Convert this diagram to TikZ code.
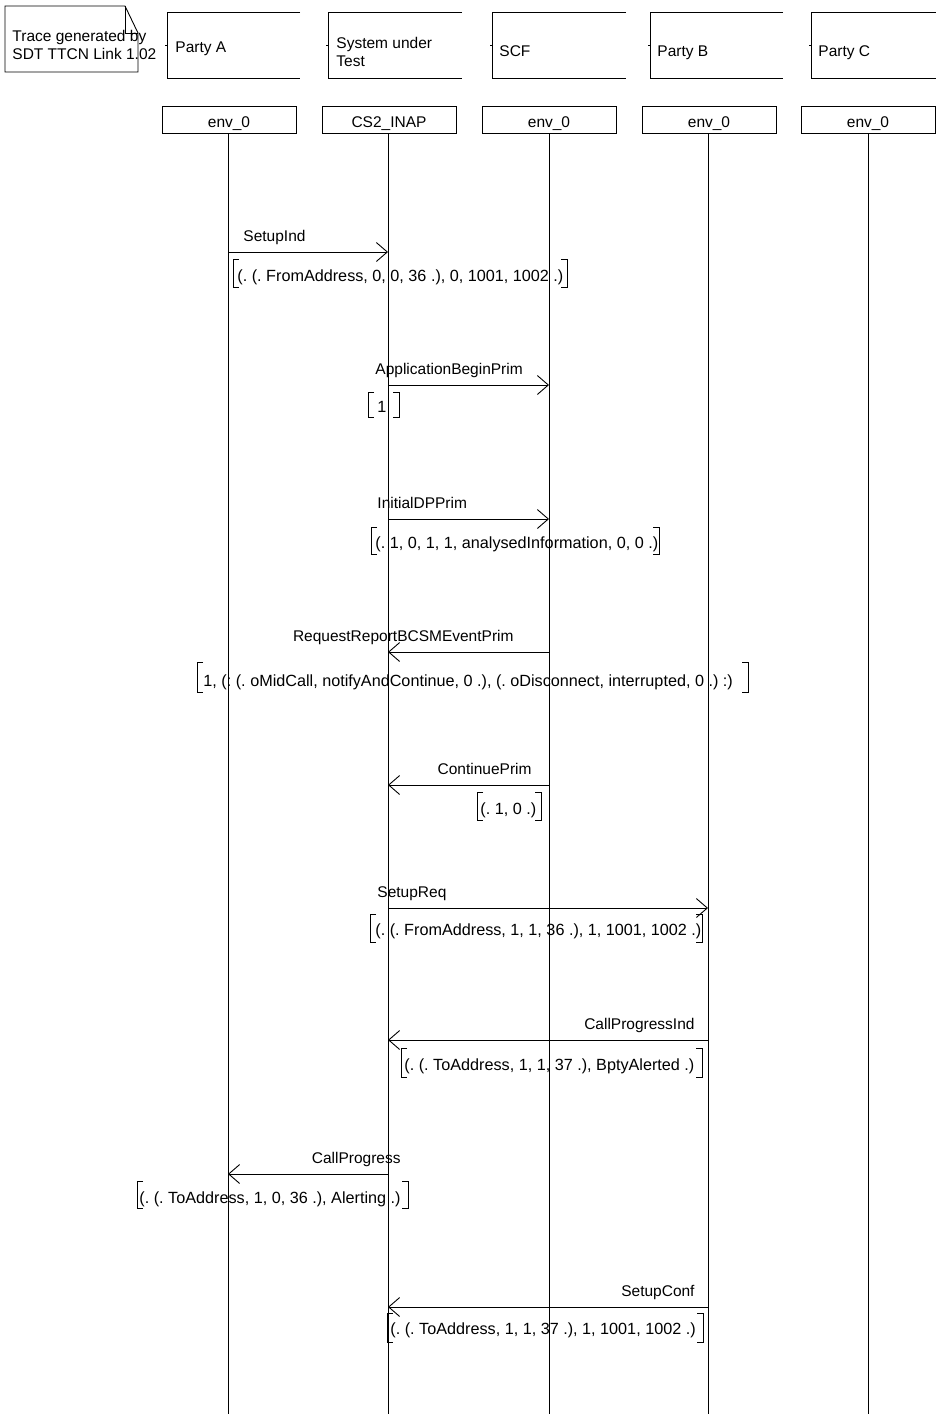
\documentclass[tikz,border=0pt]{standalone}
\usepackage{fontspec}
\setmainfont{Liberation Sans}
\usetikzlibrary{arrows.meta}
\newcommand{\brk}[4]{% xl xr ytop ybot
  \draw (#1+6,#3) -- (#1,#3) -- (#1,#4) -- (#1+6,#4);
  \draw (#2-6,#3) -- (#2,#3) -- (#2,#4) -- (#2-6,#4);}
\newcommand{\hdrbox}[2]{% left x, right x
  \draw (#2,12) -- (#1,12) -- (#1,78) -- (#2,78);
  \draw (#1,45) -- (#1-2,45);}
\begin{document}
\frenchspacing
\begin{tikzpicture}[x=1pt,y=-1pt,line width=0.9pt,
  txt/.style={inner sep=0pt,anchor=base west,font=\fontsize{15.5}{18}\selectfont\frenchspacing},
  txtr/.style={txt,anchor=base east},
  par/.style={txt,font=\fontsize{16.2}{18}\selectfont\frenchspacing},
  envbox/.style={draw,minimum width=134pt,minimum height=27pt,inner sep=0pt,text height=16pt,text depth=0pt,font=\fontsize{15.5}{18}\selectfont},
  msg/.style={-{Straight Barb[length=11pt,width=19pt]}},
  lifeline/.style={line width=0.9pt}]
\useasboundingbox (0,0) rectangle (935,1414);
% note
\draw (5,6) -- (125,6) -- (138,33) -- (138,72) -- (5,72) -- cycle;
\draw (125,6) -- (125,33) -- (138,33);
\node[txt] (note1) at (12,41) {Trace generated by};
\node[txt] (note2) at (12,59) {SDT TTCN Link 1.02};
% header boxes
\hdrbox{167}{300}
\hdrbox{328}{462}
\hdrbox{492}{626}
\hdrbox{650}{783}
\hdrbox{811}{936}
\node[txt] (hA) at (175,52) {Party A};
\node[txt] (hS1) at (336,48) {System under};
\node[txt] (hS2) at (336,66) {Test};
\node[txt] (hF) at (499,56) {SCF};
\node[txt] (hB) at (657,56) {Party B};
\node[txt] (hC) at (818,56) {Party C};
% env boxes
\node[envbox] (eA) at (229,119.5) {env\_0};
\node[envbox] (eS) at (389,119.5) {CS2\_INAP};
\node[envbox] (eF) at (549,119.5) {env\_0};
\node[envbox] (eB) at (709,119.5) {env\_0};
\node[envbox] (eC) at (868,119.5) {env\_0};
\coordinate (tA) at (228,133); \coordinate (bA) at (228,1414);
\coordinate (tS) at (388,133); \coordinate (bS) at (388,1414);
\coordinate (tF) at (549,133); \coordinate (bF) at (549,1414);
\coordinate (tB) at (708,133); \coordinate (bB) at (708,1414);
\coordinate (tC) at (868,133); \coordinate (bC) at (868,1414);
\draw[lifeline] (tA) -- (bA);
\draw[lifeline] (tS) -- (bS);
\draw[lifeline] (tF) -- (bF);
\draw[lifeline] (tB) -- (bB);
\draw[lifeline] (tC) -- (bC);
% 1 SetupInd
\coordinate (m1a) at (228,252); \coordinate (m1b) at (388,252);
\draw[msg] (m1a) -- (m1b);
\node[txt] (l1) at (243,241) {SetupInd};
\brk{233}{567}{259}{287}
\node[par] (p1) at (237,281) {(. (. FromAddress, 0, 0, 36 .), 0, 1001, 1002 .)};
% 2 ApplicationBeginPrim
\coordinate (m2a) at (388,385); \coordinate (m2b) at (549,385);
\draw[msg] (m2a) -- (m2b);
\node[txt] (l2) at (375,374) {ApplicationBeginPrim};
\brk{368}{399}{392}{417}
\node[par] (p2) at (377,412) {1};
% 3 InitialDPPrim
\coordinate (m3a) at (388,519); \coordinate (m3b) at (549,519);
\draw[msg] (m3a) -- (m3b);
\node[txt] (l3) at (377,508) {InitialDPPrim};
\brk{371}{659}{527}{554}
\node[par] (p3) at (375,548) {(. 1, 0, 1, 1, analysedInformation, 0, 0 .)};
% 4 RequestReportBCSMEventPrim
\coordinate (m4a) at (549,652); \coordinate (m4b) at (388,652);
\draw[msg] (m4a) -- (m4b);
\node[txtr] (l4) at (514,641) {RequestReportBCSMEventPrim};
\brk{197}{748}{662}{692}
\node[par] (p4) at (203,686) {1, (: (. oMidCall, notifyAndContinue, 0 .), (. oDisconnect, interrupted, 0 .) :)};
% 5 ContinuePrim
\coordinate (m5a) at (549,785); \coordinate (m5b) at (388,785);
\draw[msg] (m5a) -- (m5b);
\node[txtr] (l5) at (532,774) {ContinuePrim};
\brk{477}{541}{792}{820}
\node[par] (p5) at (480,814) {(. 1, 0 .)};
% 6 SetupReq
\coordinate (m6a) at (388,908); \coordinate (m6b) at (708,908);
\draw[msg] (m6a) -- (m6b);
\node[txt] (l6) at (377,897) {SetupReq};
\brk{370}{702}{914}{942}
\node[par] (p6) at (375,935) {(. (. FromAddress, 1, 1, 36 .), 1, 1001, 1002 .)};
% 7 CallProgressInd
\coordinate (m7a) at (708,1040); \coordinate (m7b) at (388,1040);
\draw[msg] (m7a) -- (m7b);
\node[txtr] (l7) at (695,1029) {CallProgressInd};
\brk{401}{702}{1048}{1077}
\node[par] (p7) at (404,1070) {(. (. ToAddress, 1, 1, 37 .), BptyAlerted .)};
% 8 CallProgress
\coordinate (m8a) at (388,1174); \coordinate (m8b) at (228,1174);
\draw[msg] (m8a) -- (m8b);
\node[txtr] (l8) at (401,1163) {CallProgress};
\brk{137}{408}{1181}{1208}
\node[par] (p8) at (139,1203) {(. (. ToAddress, 1, 0, 36 .), Alerting .)};
% 9 SetupConf
\coordinate (m9a) at (708,1307); \coordinate (m9b) at (388,1307);
\draw[msg] (m9a) -- (m9b);
\node[txtr] (l9) at (695,1296) {SetupConf};
\brk{387}{703}{1313}{1342}
\node[par] (p9) at (390,1334) {(. (. ToAddress, 1, 1, 37 .), 1, 1001, 1002 .)};
\end{tikzpicture}
\end{document}
